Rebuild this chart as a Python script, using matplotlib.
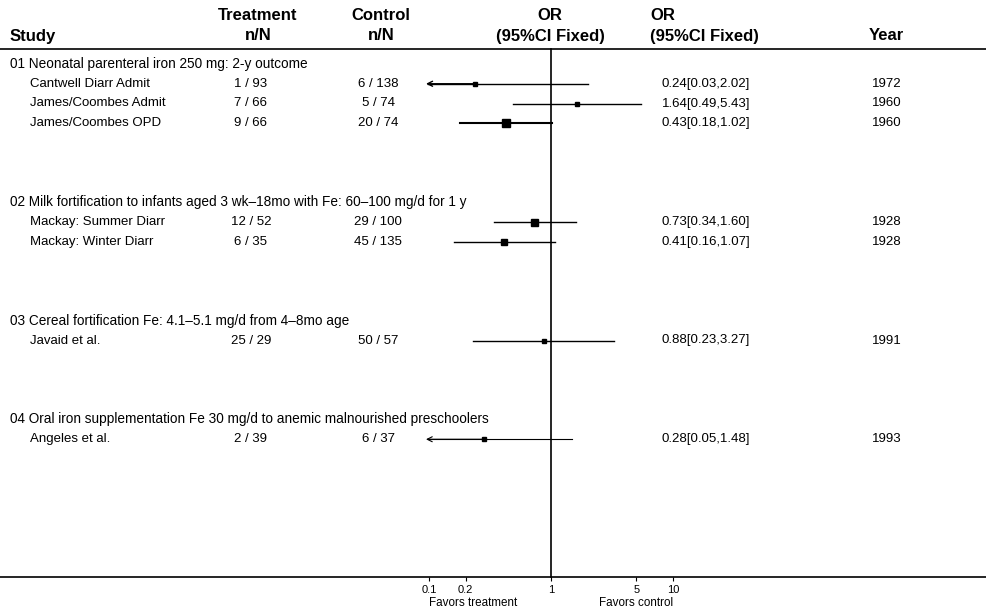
import numpy as np
import matplotlib
matplotlib.use('Agg')
import matplotlib.pyplot as plt
import matplotlib.transforms as mtrans

# data
groups = ['01 Neonatal parenteral iron 250 mg: 2-y outcome',
          '02 Milk fortification to infants aged 3 wk\u201318mo with Fe: 60\u2013100 mg/d for 1 y',
          '03 Cereal fortification Fe: 4.1\u20135.1 mg/d from 4\u20138mo age',
          '04 Oral iron supplementation Fe 30 mg/d to anemic malnourished preschoolers']
studies = ['Cantwell Diarr Admit', 'James/Coombes Admit', 'James/Coombes OPD',
           'Mackay: Summer Diarr', 'Mackay: Winter Diarr', 'Javaid et al.', 'Angeles et al.']
study_group = [0, 0, 0, 1, 1, 2, 3]
treat_n = [1, 7, 9, 12, 6, 25, 2]
treat_N = [93, 66, 66, 52, 35, 29, 39]
ctrl_n = [6, 5, 20, 29, 45, 50, 6]
ctrl_N = [138, 74, 74, 100, 135, 57, 37]
odds = [0.24, 1.64, 0.43, 0.73, 0.41, 0.88, 0.28]
ci_lo = [0.03, 0.49, 0.18, 0.34, 0.16, 0.23, 0.05]
ci_hi = [2.02, 5.43, 1.02, 1.60, 1.07, 3.27, 1.48]
years = [1972, 1960, 1960, 1928, 1928, 1991, 1993]
box_px = [5, 5, 8, 7, 6, 5, 5]          # square size (weight)
line_w = [1.0, 1.0, 1.5, 1.0, 1.0, 1.0, 0.8]
ticks = [0.1, 0.2, 1, 5, 10]

# layout (pixels)
W, H = 986, 611
row0, row_h = 64.0, 19.75
blank_rows = 3
head_y = 49
base_y = 577
x_one = 551.0        # pixel position of OR = 1
px_dec = 122.0       # pixels per decade
clip = 10 ** ((426 - x_one) / px_dec)

# row positions: group header, its studies, then 3 blank rows
group_y, study_y = [], []
r = 0
for g in range(len(groups)):
	group_y.append(row0 + r * row_h)
	r += 1
	for i, sg in enumerate(study_group):
		if sg == g:
			study_y.append(row0 + r * row_h)
			r += 1
	r += blank_rows

plt.rcParams['font.family'] = ['Liberation Sans', 'DejaVu Sans']
fig = plt.figure(figsize=(W / 100, H / 100), dpi=100)
ax = fig.add_axes([0, 0, 1, 1])
ax.set_xscale('log')
ax.set_xlim(10 ** (-x_one / px_dec), 10 ** ((W - x_one) / px_dec))
ax.set_ylim(H, 0)
for s in ['top', 'left', 'right']:
	ax.spines[s].set_visible(False)
ax.spines['bottom'].set_position(('data', base_y))
ax.spines['bottom'].set_linewidth(1.2)
ax.set_yticks([])
ax.set_xticks(ticks)
ax.set_xticklabels([str(t) for t in ticks], fontsize=8)
ax.xaxis.set_minor_locator(matplotlib.ticker.NullLocator())
ax.tick_params(axis='x', direction='out', length=3, width=0.8, pad=3)

tr = mtrans.blended_transform_factory(ax.transAxes, ax.transData)
def px(x):
	return x / W

# header
hfam = ['Liberation Sans Narrow', 'Liberation Sans', 'DejaVu Sans']
hkw = dict(transform=tr, fontsize=12, fontweight='bold', family=hfam, va='center')
ax.text(px(10), 36, 'Study', **hkw)
ax.text(px(258), 15, 'Treatment', ha='center', **hkw)
ax.text(px(258), 36, 'n/N', ha='center', **hkw)
ax.text(px(381), 15, 'Control', ha='center', **hkw)
ax.text(px(381), 36, 'n/N', ha='center', **hkw)
ax.text(px(550), 15, 'OR', ha='center', **hkw)
ax.text(px(550), 36, '(95%CI Fixed)', ha='center', **hkw)
ax.text(px(650), 15, 'OR', **hkw)
ax.text(px(650), 36, '(95%CI Fixed)', **hkw)
ax.text(px(886), 36, 'Year', ha='center', **hkw)
ax.axhline(head_y, color='black', lw=1.2)

# line of no effect
ax.plot([1, 1], [head_y, base_y], color='black', lw=1.2)

for g, y in zip(groups, group_y):
	ax.text(px(10), y, g, transform=tr, fontsize=9.8, va='center')

bkw = dict(transform=tr, fontsize=9.5, va='center')
for i, name in enumerate(studies):
	y = study_y[i]
	ax.text(px(30), y, name, **bkw)
	ax.text(px(251), y, f'{treat_n[i]} / {treat_N[i]}', ha='center', **bkw)
	ax.text(px(378), y, f'{ctrl_n[i]} / {ctrl_N[i]}', ha='center', **bkw)
	ax.text(px(662), y, f'{odds[i]:.2f}[{ci_lo[i]:.2f},{ci_hi[i]:.2f}]', **bkw)
	ax.text(px(887), y, str(years[i]), ha='center', **bkw)

	lo = ci_lo[i]
	if lo < clip:
		ax.plot([clip * 1.03, ci_hi[i]], [y, y], color='black', lw=line_w[i])
		ax.annotate('', xy=(clip, y), xytext=(odds[i], y),
			arrowprops=dict(arrowstyle='->', lw=line_w[i], color='black',
				shrinkA=0, shrinkB=0, mutation_scale=9))
	else:
		ax.plot([lo, ci_hi[i]], [y, y], color='black', lw=line_w[i])
	ax.plot(odds[i], y, marker='s', color='black', markersize=box_px[i] * 0.72, linestyle='none')

ax.text(px(473), 603, 'Favors treatment', transform=tr, fontsize=8.4, ha='center', va='center')
ax.text(px(636), 603, 'Favors control', transform=tr, fontsize=8.4, ha='center', va='center')

fig.savefig('out.png', dpi=100)
